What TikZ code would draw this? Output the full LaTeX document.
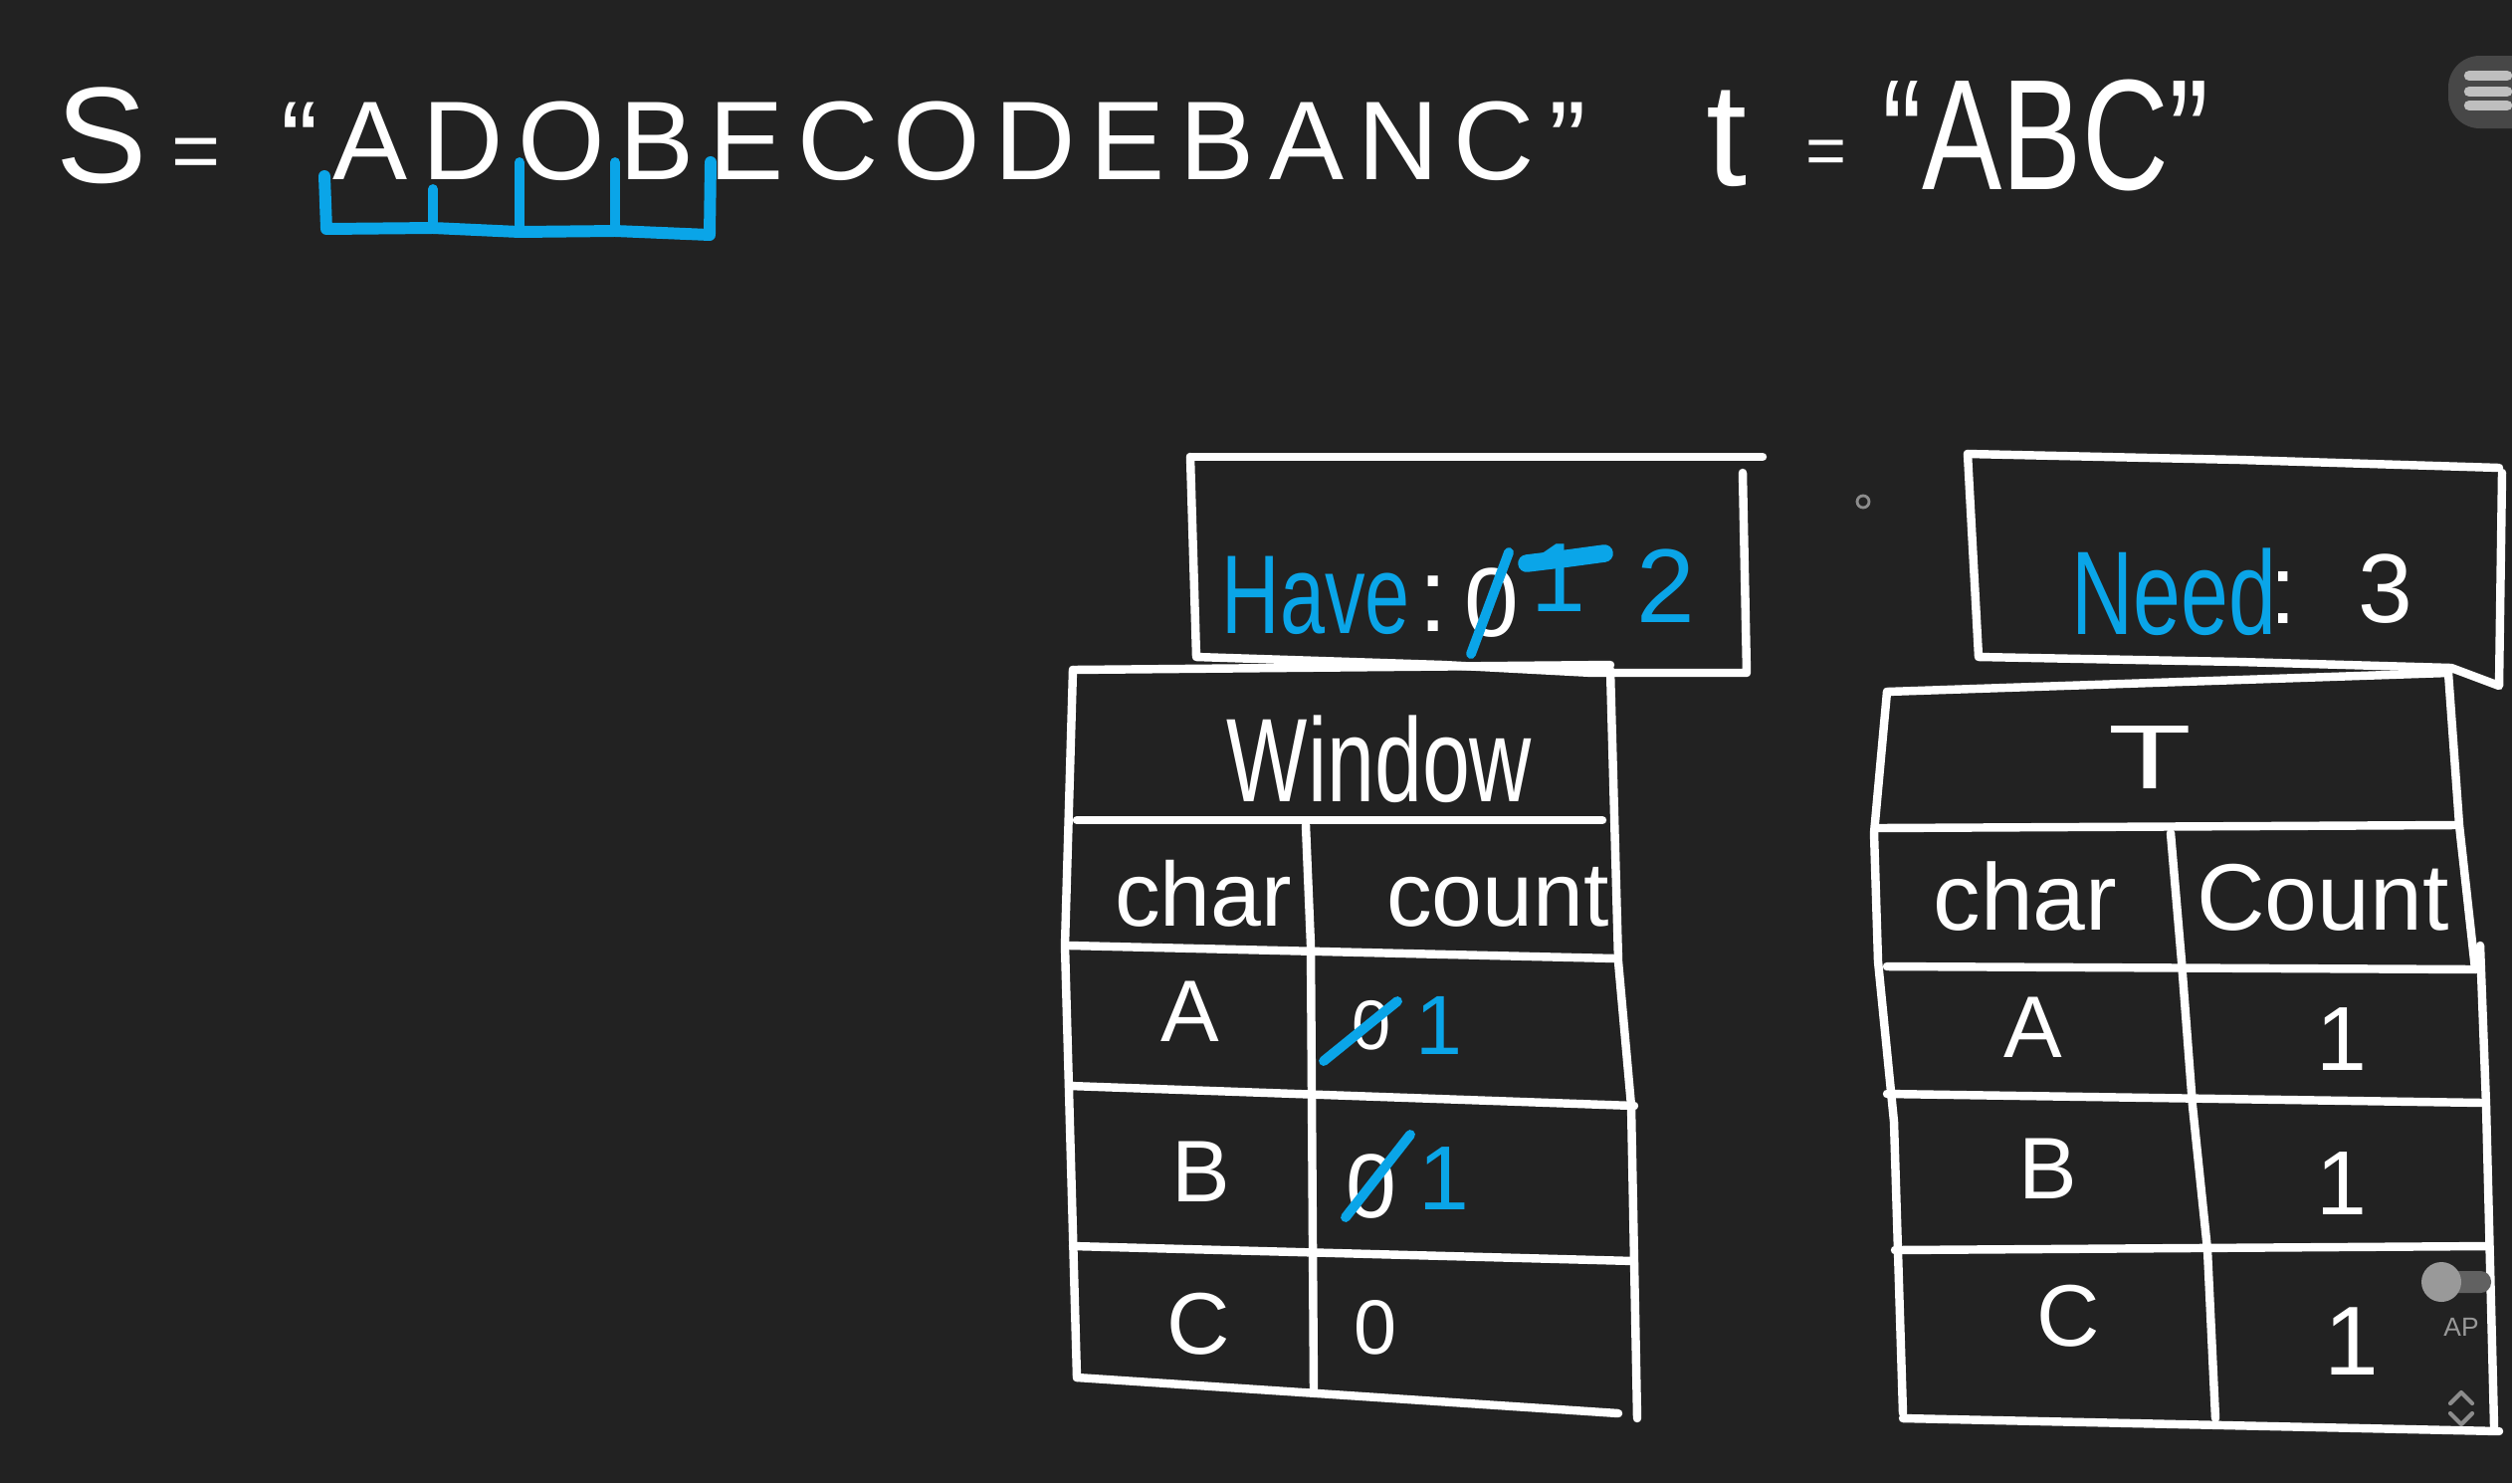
\documentclass[tikz,border=0pt]{standalone}
\usepackage{fontspec}
\setmainfont{Liberation Sans}
\newfontfamily\narrowfont[FakeStretch=0.72]{Liberation Sans}
\newfontfamily\tallfont[FakeStretch=0.76]{Liberation Sans}
\definecolor{bg}{HTML}{222222}
\definecolor{pen}{HTML}{0AA5E8}
\definecolor{uigrey}{HTML}{999999}
\begin{document}
\begin{tikzpicture}[x=0.01cm,y=-0.01cm,line cap=round,line join=round,
  chalk/.style={draw=white,line width=2.4pt},
  ink/.style={draw=pen,line width=2.8pt},
  wt/.style={text=white,inner sep=0pt},
  bt/.style={text=pen,inner sep=0pt}]
\fill[bg] (0,0) rectangle (2524,1490);
\useasboundingbox (0,0) rectangle (2524,1490);

% ---------- top line ----------
\node[wt,anchor=base west,font=\fontsize{39}{39}\selectfont] (sname) at (56,183) {S};
\node[wt,anchor=base,font=\fontsize{24}{24}\selectfont] (seq) at (197,180) {=};
\node[wt,anchor=base west,font=\fontsize{32}{32}\selectfont\addfontfeature{LetterSpace=13}] (sval) at (282,180) {“ADOBECODEBANC”};
\node[wt,anchor=base,font=\fontsize{42}{42}\selectfont] (tname) at (1735,186) {t};
\node[wt,anchor=base,font=\fontsize{20}{20}\selectfont] (teq) at (1835,175) {=};
\node[wt,anchor=base west,font=\tallfont\fontsize{45}{45}\selectfont] (tval) at (1891,190) {“ABC”};

% blue window bracket
\draw[ink,line width=3.4pt] (326,177) -- (328,230) -- (435,229) -- (522,233) -- (618,232) -- (713,236) -- (714,163);
\draw[ink] (435,190) -- (435,229);
\draw[ink] (522,163) -- (522,233);
\draw[ink] (618,163) -- (618,232);

% ---------- Have box ----------
\draw[chalk] (1196,459) -- (1771,459);
\draw[chalk] (1196,459) -- (1202,660) -- (1450,668) -- (1600,676) -- (1755,676) -- (1751,475);
\node[bt,anchor=base west,font=\narrowfont\fontsize{32}{32}\selectfont] (have) at (1227,636) {Have};
\node[wt,anchor=base,font=\fontsize{30}{30}\selectfont] (havecolon) at (1440,634) {:};
\node[wt,anchor=base,font=\fontsize{28}{28}\selectfont] (havezero) at (1499,639) {0};
\draw[ink] (1478,657) -- (1516,555);
\node[bt,anchor=base,font=\fontsize{28}{28}\selectfont] (haveone) at (1566,614) {1};
\draw[ink,line width=5pt] (1534,566) -- (1575,561) -- (1612,556);
\node[bt,anchor=base,font=\fontsize{30}{30}\selectfont] (havetwo) at (1674,625) {2};

% ---------- Need box ----------
\draw[chalk] (1977,456) -- (2250,462) -- (2511,470);
\draw[chalk] (1977,456) -- (1988,660) -- (2250,665) -- (2463,671) -- (2511,689) -- (2514,475);
\node[bt,anchor=base west,font=\narrowfont\fontsize{34}{34}\selectfont] (need) at (2081,637) {Need};
\node[wt,anchor=base,font=\fontsize{28}{28}\selectfont] (needcolon) at (2294,626) {:};
\node[wt,anchor=base,font=\fontsize{28}{28}\selectfont] (needthree) at (2397,625) {3};

% ---------- Window table ----------
\draw[chalk] (1078,673) -- (1618,668);
\draw[chalk] (1078,673) -- (1070,950) -- (1082,1384);
\draw[chalk] (1082,824) -- (1610,824);
\draw[chalk] (1618,673) -- (1626,966) -- (1639,1111) -- (1645,1425);
\draw[chalk] (1075,950) -- (1623,963);
\draw[chalk] (1312,829) -- (1317,950) -- (1320,1397);
\draw[chalk] (1075,1091) -- (1642,1111);
\draw[chalk] (1078,1252) -- (1642,1267);
\draw[chalk] (1082,1384) -- (1626,1420);

\node[wt,anchor=base,font=\narrowfont\fontsize{34}{34}\selectfont] (window) at (1386,805) {Window};
\node[wt,anchor=base,font=\fontsize{26}{26}\selectfont] (wchar) at (1209,930) {char};
\node[wt,anchor=base,font=\fontsize{26}{26}\selectfont] (wcount) at (1505,930) {count};
\node[wt,anchor=base,font=\fontsize{25}{25}\selectfont] (wa) at (1196,1046) {A};
\node[wt,anchor=base,font=\fontsize{25}{25}\selectfont] (wb) at (1207,1207) {B};
\node[wt,anchor=base,font=\fontsize{25}{25}\selectfont] (wc) at (1204,1360) {C};
\node[wt,anchor=base,font=\fontsize{20}{20}\selectfont] (wazero) at (1378,1054) {0};
\draw[ink] (1330,1066) -- (1404,1006);
\node[bt,anchor=base,font=\fontsize{24}{24}\selectfont] (waone) at (1446,1059) {1};
\node[wt,anchor=base,font=\fontsize{26}{26}\selectfont] (wbzero) at (1378,1223) {0};
\draw[ink] (1352,1223) -- (1417,1140);
\node[bt,anchor=base,font=\fontsize{26}{26}\selectfont] (wbone) at (1451,1215) {1};
\node[wt,anchor=base,font=\fontsize{22}{22}\selectfont] (wczero) at (1382,1360) {0};

% ---------- T table ----------
\draw[chalk] (1896,695) -- (2460,676);
\draw[chalk] (1896,695) -- (1883,837) -- (1887,966) -- (1903,1127) -- (1912,1420);
\draw[chalk] (2460,676) -- (2471,829) -- (2487,974);
\draw[chalk] (2492,950) -- (2498,1111) -- (2506,1433);
\draw[chalk] (1887,832) -- (2466,829);
\draw[chalk] (1896,971) -- (2487,974);
\draw[chalk] (2181,837) -- (2192,966) -- (2203,1111) -- (2218,1256) -- (2226,1425);
\draw[chalk] (1896,1099) -- (2495,1108);
\draw[chalk] (1904,1256) -- (2500,1252);
\draw[chalk] (1912,1425) -- (2511,1438);

\node[wt,anchor=base,font=\fontsize{26}{26}\selectfont] (ttitle) at (2160,792) {\scalebox{1.5}[1]{T}};
\node[wt,anchor=base,font=\fontsize{27}{27}\selectfont] (tchar) at (2035,934) {char};
\node[wt,anchor=base,font=\fontsize{27}{27}\selectfont] (tcount) at (2334,934) {Count};
\node[wt,anchor=base,font=\fontsize{25}{25}\selectfont] (ta) at (2043,1062) {A};
\node[wt,anchor=base,font=\fontsize{25}{25}\selectfont] (tb) at (2058,1204) {B};
\node[wt,anchor=base,font=\fontsize{25}{25}\selectfont] (tc) at (2078,1352) {C};
\node[wt,anchor=base,font=\fontsize{26}{26}\selectfont] (taone) at (2353,1075) {1};
\node[wt,anchor=base,font=\fontsize{26}{26}\selectfont] (tbone) at (2353,1220) {1};
\node[wt,anchor=base,font=\fontsize{28}{28}\selectfont] (tcone) at (2363,1381) {1};

% ---------- UI remnants ----------
\fill[fill=black!72!white,rounded corners=9pt] (2460,56) rectangle (2580,129);
\foreach \yy in {76,92,106} \draw[draw=black!25!white,line width=3pt] (2481,\yy) -- (2519,\yy);
\fill[black!62!white,rounded corners=3pt] (2447,1277) rectangle (2503,1299);
\fill[uigrey] (2453,1288) circle (20);
\node[text=uigrey,inner sep=0pt,font=\fontsize{7.5}{7.5}\selectfont] (aplabel) at (2473,1333) {AP};
\draw[draw=black!45!white,line width=1.2pt] (2462,1410) -- (2473,1399) -- (2484,1410);
\draw[draw=black!45!white,line width=1.2pt] (2462,1420) -- (2473,1431) -- (2484,1420);
\draw[draw=black!45!white,line width=0.8pt] (1872,504) circle (6);
\end{tikzpicture}
\end{document}
